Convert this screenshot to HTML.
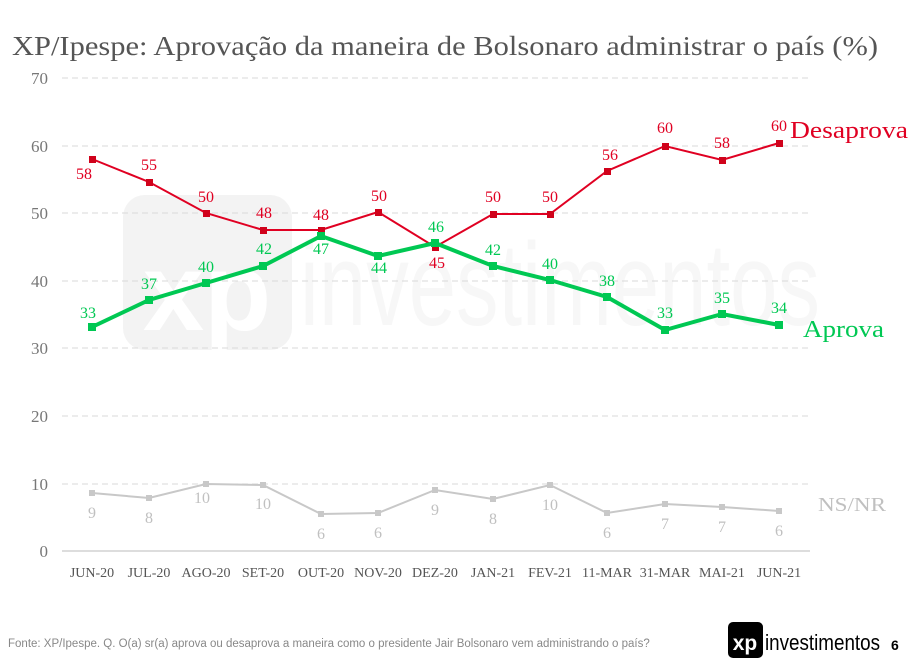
<!DOCTYPE html><html><head><meta charset="utf-8"><style>body{margin:0;background:#fff}svg{display:block}</style></head><body>
<svg width="924" height="666" xmlns="http://www.w3.org/2000/svg" font-family="Liberation Serif, serif">
<rect width="924" height="666" fill="#fff"/>
<rect x="123" y="195" width="169" height="155" rx="22" fill="#f3f3f3"/>
<text x="207" y="330" font-family="Liberation Sans, sans-serif" font-weight="bold" font-size="110" fill="#fff" text-anchor="middle">xp</text>
<text x="300" y="325" font-family="Liberation Sans, sans-serif" font-size="118" fill="#f7f7f7" textLength="520" lengthAdjust="spacingAndGlyphs">investimentos</text>
<text x="12" y="55" font-size="27" fill="#555" textLength="866" lengthAdjust="spacingAndGlyphs">XP/Ipespe: Aprovação da maneira de Bolsonaro administrar o país (%)</text>
<g stroke="#d9d9d9" stroke-dasharray="6,4" stroke-width="1">
<line x1="62" x2="810" y1="78" y2="78"/><line x1="62" x2="810" y1="146" y2="146"/><line x1="62" x2="810" y1="213" y2="213"/><line x1="62" x2="810" y1="281" y2="281"/><line x1="62" x2="810" y1="348" y2="348"/><line x1="62" x2="810" y1="416" y2="416"/><line x1="62" x2="810" y1="484" y2="484"/>
</g>
<line x1="62" x2="810" y1="551" y2="551" stroke="#bbb"/>
<g font-size="17" fill="#777" text-anchor="end">
<text x="48" y="84">70</text><text x="48" y="152">60</text><text x="48" y="219">50</text><text x="48" y="287">40</text><text x="48" y="354">30</text><text x="48" y="422">20</text><text x="48" y="490">10</text><text x="48" y="557">0</text>
</g>
<g font-size="14" fill="#555" text-anchor="middle">
<text x="92" y="577">JUN-20</text><text x="149" y="577">JUL-20</text><text x="206" y="577">AGO-20</text><text x="263" y="577">SET-20</text><text x="321" y="577">OUT-20</text><text x="378" y="577">NOV-20</text><text x="435" y="577">DEZ-20</text><text x="493" y="577">JAN-21</text><text x="550" y="577">FEV-21</text><text x="607" y="577">11-MAR</text><text x="665" y="577">31-MAR</text><text x="722" y="577">MAI-21</text><text x="779" y="577">JUN-21</text>
</g>
<polyline fill="none" stroke="#c8c8c8" stroke-width="2" points="92,493 149,498 206,484 263,485 321,514 378,513 435,490 493,499 550,485 607,513 665,504 722,507 779,511"/>
<g fill="#c8c8c8"><rect x="89" y="490" width="6" height="6"/><rect x="146" y="495" width="6" height="6"/><rect x="203" y="481" width="6" height="6"/><rect x="260" y="482" width="6" height="6"/><rect x="318" y="511" width="6" height="6"/><rect x="375" y="510" width="6" height="6"/><rect x="432" y="487" width="6" height="6"/><rect x="490" y="496" width="6" height="6"/><rect x="547" y="482" width="6" height="6"/><rect x="604" y="510" width="6" height="6"/><rect x="662" y="501" width="6" height="6"/><rect x="719" y="504" width="6" height="6"/><rect x="776" y="508" width="6" height="6"/></g>
<g font-size="16" fill="#c0c0c0" text-anchor="middle">
<text x="92" y="518">9</text><text x="149" y="523">8</text><text x="202" y="503">10</text><text x="263" y="509">10</text><text x="321" y="539">6</text><text x="378" y="538">6</text><text x="435" y="515">9</text><text x="493" y="524">8</text><text x="550" y="510">10</text><text x="607" y="538">6</text><text x="665" y="529">7</text><text x="722" y="532">7</text><text x="779" y="536">6</text>
</g>
<text x="818" y="511" font-size="20" fill="#c0c0c0" textLength="68" lengthAdjust="spacingAndGlyphs">NS/NR</text>
<polyline fill="none" stroke="#e00022" stroke-width="2" points="92,159 149,182 206,213 263,230 321,230 378,212 435,247 493,214 550,214 607,171 665,146 722,160 779,143"/>
<g fill="#d0021b"><rect x="89" y="156" width="7" height="7"/><rect x="146" y="179" width="7" height="7"/><rect x="203" y="210" width="7" height="7"/><rect x="260" y="227" width="7" height="7"/><rect x="318" y="227" width="7" height="7"/><rect x="375" y="209" width="7" height="7"/><rect x="432" y="244" width="7" height="7"/><rect x="490" y="211" width="7" height="7"/><rect x="547" y="211" width="7" height="7"/><rect x="604" y="168" width="7" height="7"/><rect x="662" y="143" width="7" height="7"/><rect x="719" y="157" width="7" height="7"/><rect x="776" y="140" width="7" height="7"/></g>
<g font-size="16" fill="#e00022" text-anchor="middle">
<text x="84" y="179">58</text><text x="149" y="170">55</text><text x="206" y="202">50</text><text x="264" y="218">48</text><text x="321" y="220">48</text><text x="379" y="201">50</text><text x="437" y="268">45</text><text x="493" y="202">50</text><text x="550" y="202">50</text><text x="610" y="160">56</text><text x="665" y="133">60</text><text x="722" y="148">58</text><text x="779" y="131">60</text>
</g>
<text x="790" y="138" font-size="24" fill="#e00022" textLength="118" lengthAdjust="spacingAndGlyphs">Desaprova</text>
<polyline fill="none" stroke="#00c853" stroke-width="4" points="92,327 149,300 206,283 263,266 321,236 378,256 435,243 493,266 550,280 607,297 665,330 722,314 779,325"/>
<g fill="#00c853"><rect x="88" y="323" width="8" height="8"/><rect x="145" y="296" width="8" height="8"/><rect x="202" y="279" width="8" height="8"/><rect x="259" y="262" width="8" height="8"/><rect x="317" y="232" width="8" height="8"/><rect x="374" y="252" width="8" height="8"/><rect x="431" y="239" width="8" height="8"/><rect x="489" y="262" width="8" height="8"/><rect x="546" y="276" width="8" height="8"/><rect x="603" y="293" width="8" height="8"/><rect x="661" y="326" width="8" height="8"/><rect x="718" y="310" width="8" height="8"/><rect x="775" y="321" width="8" height="8"/></g>
<g font-size="16" fill="#00c853" text-anchor="middle">
<text x="88" y="318">33</text><text x="149" y="289">37</text><text x="206" y="272">40</text><text x="264" y="254">42</text><text x="321" y="254">47</text><text x="379" y="273">44</text><text x="436" y="232">46</text><text x="493" y="255">42</text><text x="550" y="269">40</text><text x="607" y="286">38</text><text x="665" y="318">33</text><text x="722" y="303">35</text><text x="779" y="313">34</text>
</g>
<text x="803" y="337" font-size="24" fill="#00c853" textLength="81" lengthAdjust="spacingAndGlyphs">Aprova</text>
<text x="8" y="647" font-family="Liberation Sans, sans-serif" font-size="11.5" fill="#888">Fonte: XP/Ipespe. Q. O(a) sr(a) aprova ou desaprova a maneira como o presidente Jair Bolsonaro vem administrando o país?</text>
<rect x="728" y="622" width="35" height="36" rx="5" fill="#000"/>
<text x="745" y="650" font-family="Liberation Sans, sans-serif" font-weight="bold" font-size="21" fill="#fff" text-anchor="middle">xp</text>
<text x="765" y="650" font-family="Liberation Sans, sans-serif" font-size="22" fill="#000" textLength="115" lengthAdjust="spacingAndGlyphs">investimentos</text>
<text x="891" y="650" font-family="Liberation Sans, sans-serif" font-weight="bold" font-size="14" fill="#000">6</text>
</svg>
</body></html>
